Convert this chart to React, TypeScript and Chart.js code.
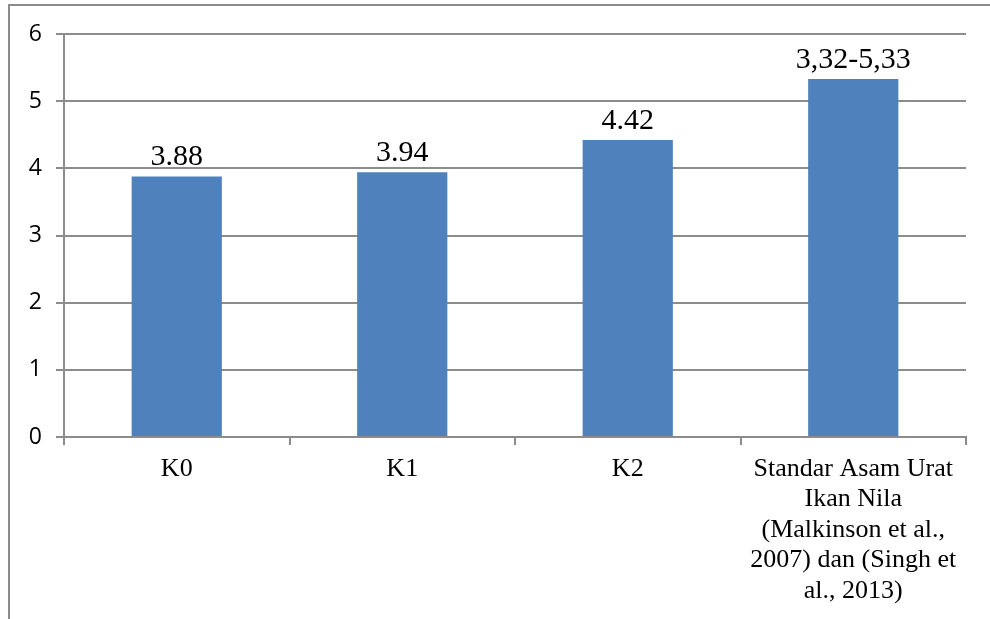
import React, { useEffect, useRef } from "react";
import { Chart, registerables } from "chart.js";

Chart.register(...registerables);

const categories: (string | string[])[] = [
  "K0",
  "K1",
  "K2",
  ["Standar Asam Urat", "Ikan Nila", "(Malkinson et al.,", "2007) dan (Singh et", "al., 2013)"],
];
const values = [3.88, 3.94, 4.42, 5.33];
const valueLabels = ["3.88", "3.94", "4.42", "3,32-5,33"];
const yTicks = { min: 0, max: 6, step: 1 };

const GRID = "#8c8c8c";
const BAR = "#4f81bd";

const W = 990;
const H = 619;

export default function App() {
  const ref = useRef<HTMLCanvasElement | null>(null);

  useEffect(() => {
    if (!ref.current) return;
    const frame = {
      id: "frame",
      beforeDraw(chart: any) {
        const ctx = chart.ctx;
        ctx.save();
        ctx.fillStyle = "#ffffff";
        ctx.fillRect(0, 0, W, H);
        ctx.fillStyle = GRID;
        ctx.fillRect(8, 4, W - 8, 2);
        ctx.fillRect(8, 4, 2, H - 4);
        ctx.restore();
      },
    };
    const dataLabels = {
      id: "dataLabels",
      afterDatasetsDraw(chart: any) {
        const ctx = chart.ctx;
        const meta = chart.getDatasetMeta(0);
        ctx.save();
        ctx.fillStyle = "#000000";
        ctx.font = "30px 'Liberation Serif', 'Times New Roman', serif";
        ctx.textAlign = "center";
        ctx.textBaseline = "alphabetic";
        meta.data.forEach((bar: any, i: number) => {
          ctx.fillText(valueLabels[i], bar.x, bar.y - 11);
        });
        ctx.restore();
      },
    };
    const chart = new Chart(ref.current, {
      type: "bar",
      data: {
        labels: categories as any,
        datasets: [
          {
            data: values,
            backgroundColor: BAR,
            borderWidth: 0,
            barPercentage: 0.4,
            categoryPercentage: 1,
          },
        ],
      },
      options: {
        responsive: false,
        animation: false,
        devicePixelRatio: 1,
        layout: { padding: { left: 0, top: 34, right: 24, bottom: 0 } },
        plugins: {
          legend: { display: false },
          tooltip: { enabled: false },
          title: { display: false },
        },
        scales: {
          x: {
            afterFit(scale: any) {
              scale.height = H - 437;
            },
            grid: {
              display: true,
              drawOnChartArea: false,
              drawTicks: true,
              tickLength: 8,
              color: GRID,
              lineWidth: 2,
              offset: true,
            },
            border: { display: true, color: GRID, width: 2 },
            ticks: {
              color: "#000000",
              padding: 9,
              maxRotation: 0,
              autoSkip: false,
              font: { family: "'Liberation Serif', 'Times New Roman', serif", size: 26, lineHeight: 1.17 },
            },
          },
          y: {
            min: yTicks.min,
            max: yTicks.max,
            afterFit(scale: any) {
              scale.width = 64;
            },
            grid: {
              color: GRID,
              lineWidth: 2,
              drawTicks: true,
              tickLength: 8,
            },
            border: { display: true, color: GRID, width: 2 },
            ticks: {
              stepSize: yTicks.step,
              color: "#000000",
              padding: 14,
              font: { family: "'Open Sans', 'Noto Sans', sans-serif", size: 23 },
            },
          },
        },
      },
      plugins: [frame, dataLabels],
    });
    return () => chart.destroy();
  }, []);

  return (
    <div style={{ position: "fixed", left: 0, top: 0, width: W, height: H, background: "#fff" }}>
      <canvas ref={ref} width={W} height={H} style={{ display: "block", width: W, height: H }} />
    </div>
  );
}
